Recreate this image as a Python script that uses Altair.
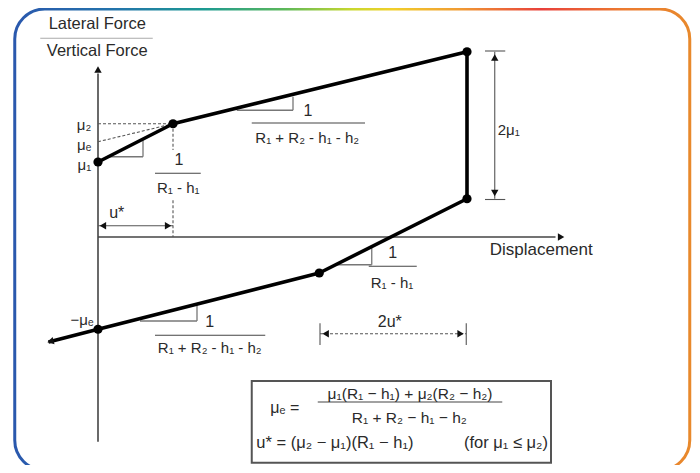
import altair as alt
import pandas as pd

# ---- diagram data (displacement in units of u*, force in units of mu1) ----
loop_x = [0.0, 1.0, 4.92, 4.92, 2.95, 0.0, -0.66]
loop_y = [1.0, 1.51, 2.47, 0.51, -0.48, -1.23, -1.40]
dot_x = [0.0, 1.0, 4.92, 4.92, 2.95, 0.0]
dot_y = [1.0, 1.51, 2.47, 0.51, -0.48, -1.23]

# thin line segments: (x, y, x2, y2, kind)
seg_x  = [0, 0,    0.6, 0.13, 2.6, 1.85, 3.65, 3.17, 1.32, 0.56,
          0.76, 2.05, 3.61, 0.76, 2.93, -0.77,
          0, 5.29, 5.16, 5.16, 2.96, 4.91,
          0, 0, 1.0, 1.0, 2.96]
seg_y  = [-2.73, 0, 1.29, 1.07, 1.87, 1.69, -0.13, -0.37, -0.91, -1.12,
          0.85, 1.52, -0.39, -1.31, -2.20, 2.65,
          0.15, 2.47, 2.48, 0.50, -1.15, -1.15,
          1.51, 1.27, 1.51, 0.49, -1.29]
seg_x2 = [0, 6.1, 0.6, 0.6, 2.6, 2.6, 3.65, 3.65, 1.32, 1.32,
          1.37, 3.56, 4.25, 2.23, 5.39, 0.73,
          1.0, 5.29, 5.43, 5.43, 2.96, 4.91,
          1.0, 1.0, 1.0, 1.0, 4.91]
seg_y2 = [2.18, 0, 1.07, 1.07, 1.69, 1.69, -0.37, -0.37, -1.12, -1.12,
          0.85, 1.52, -0.39, -1.31, -2.20, 2.65,
          0.15, 0.51, 2.48, 0.50, -1.44, -1.44,
          1.51, 1.51, 1.16, 0.0, -1.29]
seg_kind = ["axis", "axis", "tri", "tri", "tri", "tri", "tri", "tri", "tri", "tri",
            "frac", "frac", "frac", "frac", "frac", "title",
            "dim", "dim", "dim", "dim", "dim", "dim",
            "dash", "dash", "dash", "dash", "dash"]

# arrowheads
arr_x = [0.0, 6.16, 0.08, 0.92, 5.29, 5.29, 3.05, 4.82, -0.62]
arr_y = [2.22, 0.0, 0.15, 0.15, 2.38, 0.60, -1.29, -1.29, -1.39]
arr_a = [0, 90, 270, 90, 0, 180, 270, 90, 255]

# texts
tc_x = [-0.01, -0.01, 1.08, 1.07, 2.80, 2.79, 0.25, 3.93, 3.92, 5.91, 1.49, 1.49, 3.89,
        2.49, 4.16, 4.15]
tc_y = [2.84, 2.48, 1.03, 0.65, 1.68, 1.32, 0.32, -0.21, -0.61, -0.17, -1.13, -1.48, -1.13,
        -2.28, -2.09, -2.41]
tc_t = ["Lateral Force", "Vertical Force", "1", "R\u2081 - h\u2081", "1",
        "R\u2081 + R\u2082 - h\u2081 - h\u2082", "u*", "1", "R\u2081 - h\u2081",
        "Displacement", "1", "R\u2081 + R\u2082 - h\u2081 - h\u2082", "2u*",
        "\u03bc\u2091 =", "\u03bc\u2081(R\u2081 \u2212 h\u2081) + \u03bc\u2082(R\u2082 \u2212 h\u2082)",
        "R\u2081 + R\u2082 \u2212 h\u2081 \u2212 h\u2082"]
tc_s = [16.5, 16.5, 16, 15, 16, 15, 16, 16, 15, 17, 16, 15, 16, 16, 15.5, 15.5]

tl_x = [5.33, 2.11]
tl_y = [1.43, -2.75]
tl_t = ["2\u03bc\u2081", "u* = (\u03bc\u2082 \u2212 \u03bc\u2081)(R\u2081 \u2212 h\u2081)"]
tl_s = [15, 16.5]

tr_x = [-0.09, -0.09, -0.09, -0.06, 6.0]
tr_y = [1.49, 1.23, 0.96, -1.11, -2.75]
tr_t = ["\u03bc\u2082", "\u03bc\u2091", "\u03bc\u2081", "\u2212\u03bc\u2091",
        "(for \u03bc\u2081 \u2264 \u03bc\u2082)"]
tr_s = [15, 15, 15, 15, 16.5]

# frame and formula box
frame = {"x": [-1.11], "x2": [7.89], "y": [3.04], "y2": [-3.11]}
box = {"x": [2.05], "x2": [6.04], "y": [-1.92], "y2": [-3.01]}

# ---------------------------------------------------------------------------
xs = alt.Scale(domain=[-1.2, 7.92], nice=False, zero=False)
ys = alt.Scale(domain=[-3.04, 3.0533], nice=False, zero=False)
FONT = "Liberation Sans"
TXT = "#2a2a2a"


def X(f):
    return alt.X(f, type="quantitative", scale=xs, axis=None)


def Y(f):
    return alt.Y(f, type="quantitative", scale=ys, axis=None)


grad = {
    "gradient": "linear", "x1": 0, "x2": 1, "y1": 0, "y2": 0,
    "stops": [
        {"offset": 0.0, "color": "#2a58ad"},
        {"offset": 0.15, "color": "#2374ab"},
        {"offset": 0.28, "color": "#1c9a92"},
        {"offset": 0.40, "color": "#5cb85a"},
        {"offset": 0.50, "color": "#c9d82e"},
        {"offset": 0.56, "color": "#f1cf2a"},
        {"offset": 0.66, "color": "#f09a33"},
        {"offset": 0.78, "color": "#e8403b"},
        {"offset": 0.90, "color": "#ec7a30"},
        {"offset": 1.0, "color": "#e8892c"},
    ],
}

frame_layer = alt.Chart(pd.DataFrame(frame)).mark_rect(
    fillOpacity=0, stroke=grad, strokeWidth=3, cornerRadius=30
).encode(x=X("x"), x2="x2", y=Y("y"), y2="y2")

box_layer = alt.Chart(pd.DataFrame(box)).mark_rect(
    fillOpacity=0, stroke="#555", strokeWidth=2
).encode(x=X("x"), x2="x2", y=Y("y"), y2="y2")

segs = pd.DataFrame({"x": seg_x, "y": seg_y, "x2": seg_x2, "y2": seg_y2, "kind": seg_kind})


def rule_layer(kind, color, width, dash=None):
    kw = dict(color=color, strokeWidth=width)
    if dash:
        kw["strokeDash"] = dash
    return alt.Chart(segs).transform_filter(
        alt.datum.kind == kind
    ).mark_rule(**kw).encode(x=X("x"), y=Y("y"), x2="x2", y2="y2")


axis_l = rule_layer("axis", "#444", 1.6)
tri_l = rule_layer("tri", "#777", 1.3)
frac_l = rule_layer("frac", "#444", 1.2)
title_l = rule_layer("title", "#aaa", 1.2)
dim_l = rule_layer("dim", "#555", 1.1)
dash_l = rule_layer("dash", "#555", 1.1, [3, 2])

loop_df = pd.DataFrame({"x": loop_x, "y": loop_y, "i": list(range(len(loop_x)))})
loop_l = alt.Chart(loop_df).mark_line(color="#000", strokeWidth=3.6, strokeJoin="round").encode(
    x=X("x"), y=Y("y"), order="i:Q"
)

dots_l = alt.Chart(pd.DataFrame({"x": dot_x, "y": dot_y})).mark_circle(
    color="#000", size=85, opacity=1
).encode(x=X("x"), y=Y("y"))

arr_df = pd.DataFrame({"x": arr_x, "y": arr_y, "a": arr_a})
arr_l = alt.Chart(arr_df).mark_point(
    shape="triangle", filled=True, size=55, color="#111", opacity=1
).encode(x=X("x"), y=Y("y"), angle=alt.Angle("a:Q", scale=None))


def text_layer(xv, yv, tv, sv, align):
    df = pd.DataFrame({"x": xv, "y": yv, "t": tv, "s": sv})
    return alt.Chart(df).mark_text(
        align=align, baseline="middle", font=FONT, color=TXT
    ).encode(x=X("x"), y=Y("y"), text="t:N", size=alt.Size("s:Q", scale=None))


tc_l = text_layer(tc_x, tc_y, tc_t, tc_s, "center")
tl_l = text_layer(tl_x, tl_y, tl_t, tl_s, "left")
tr_l = text_layer(tr_x, tr_y, tr_t, tr_s, "right")

chart = alt.layer(
    frame_layer, box_layer, axis_l, tri_l, frac_l, title_l, dim_l, dash_l,
    loop_l, dots_l, arr_l, tc_l, tl_l, tr_l
).properties(
    width=684, height=457, padding=0,
    autosize=alt.AutoSizeParams(type="none"),
    background="white",
).configure_view(stroke=None)

chart.save("out.html", embed_options={"renderer": "svg", "actions": False})
